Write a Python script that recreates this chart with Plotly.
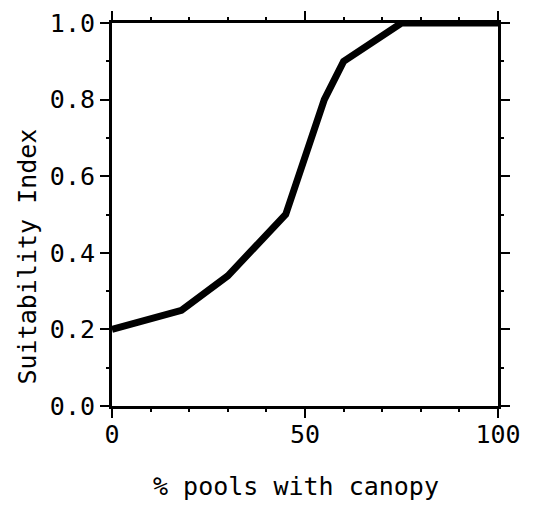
import plotly.graph_objects as go

x_pct = [0, 18, 30, 45, 55, 60, 75, 100]
si = [0.2, 0.25, 0.34, 0.5, 0.8, 0.9, 1.0, 1.0]

x_title = "% pools with canopy"
y_title = "Suitability Index"

FONT = "DejaVu Sans Mono"

fig = go.Figure()
fig.add_trace(go.Scatter(x=x_pct, y=si, mode="lines",
                         line=dict(color="black", width=7), showlegend=False))

axis_common = dict(
    showgrid=False, zeroline=False, showline=True, linecolor="black", linewidth=3,
    mirror="allticks", ticks="outside", ticklen=9, tickwidth=2, tickcolor="black",
    tickfont=dict(family=FONT, size=25, color="black"), automargin=False,
    ticklabeloverflow="allow",
)
fig.update_xaxes(range=[0, 100], tickvals=[0, 50, 100], ticktext=["0", "50", "100"],
                 ticklabelstandoff=-5,
                 minor=dict(tickvals=[10, 20, 30, 40, 60, 70, 80, 90], ticks="outside",
                            ticklen=3, tickwidth=2, tickcolor="black"),
                 **axis_common)
fig.update_yaxes(range=[0, 1.0], tickvals=[0, 0.2, 0.4, 0.6, 0.8, 1.0],
                 ticktext=["0.0", "0.2", "0.4", "0.6", "0.8", "1.0"],
                 minor=dict(tickvals=[0.1, 0.3, 0.5, 0.7, 0.9], ticks="outside",
                            ticklen=3, tickwidth=2, tickcolor="black"),
                 **axis_common)

fig.add_annotation(text=x_title, xref="paper", yref="paper", x=0.477, y=-0.166,
                   showarrow=False, yanchor="top",
                   font=dict(family=FONT, size=25, color="black"))
fig.add_annotation(text=y_title, xref="paper", yref="paper", x=-0.218, y=0.39,
                   textangle=-90, showarrow=False, xanchor="center",
                   font=dict(family=FONT, size=25, color="black"))

fig.update_layout(width=535, height=505, margin=dict(l=104, r=45, t=15, b=107),
                  plot_bgcolor="white", paper_bgcolor="white")
fig.write_html("out.html")
